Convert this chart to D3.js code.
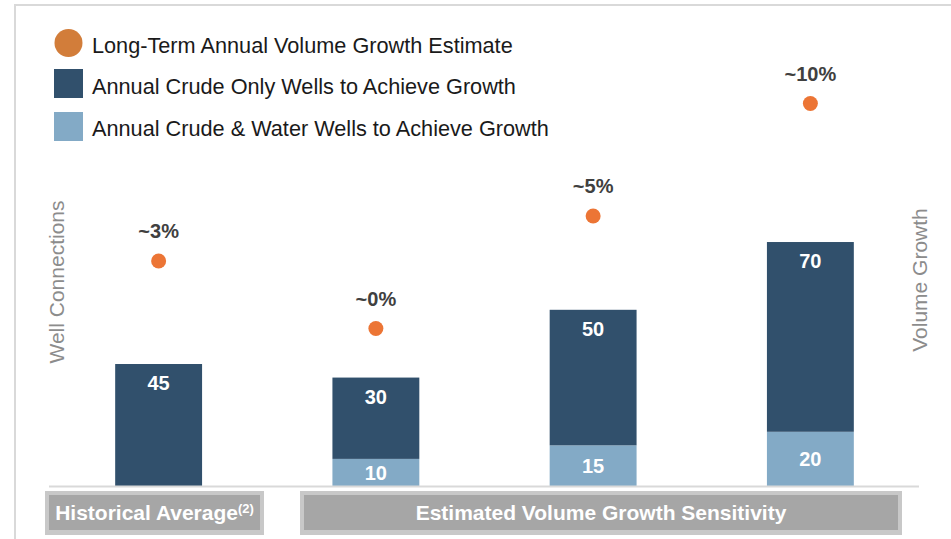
<!DOCTYPE html>
<html>
<head>
<meta charset="utf-8">
<script src="https://cdn.jsdelivr.net/npm/d3@7"></script>
<style>
  html, body { margin: 0; padding: 0; background: #fff; }
  svg { display: block; font-family: "Liberation Sans", Arial, sans-serif; }
</style>
</head>
<body>
<svg id="chart" width="951" height="539"></svg>
<script>
// Scenarios along the x axis
const scenarios = ["Historical Average", "~0% Growth", "~5% Growth", "~10% Growth"];
// Wells per year (left axis)
const crudeOnlyWells = [45, 30, 50, 70];
const crudeWaterWells = [0, 10, 15, 20];
// Long-term annual volume growth, % (right axis)
const volumeGrowth = [3, 0, 5, 10];
const growthLabels = ["~3%", "~0%", "~5%", "~10%"];
// Legend entries
const legendLabels = [
  "Long-Term Annual Volume Growth Estimate",
  "Annual Crude Only Wells to Achieve Growth",
  "Annual Crude & Water Wells to Achieve Growth"
];
// Group banners under the bars
const groupLabels = ["Historical Average", "Estimated Volume Growth Sensitivity"];
const groupSuperscripts = ["(2)", ""];

const colors = {
  crude: "#31506c",
  water: "#83aac6",
  dot: "#ec7535",
  legendDot: "#d27d3a",
  frame: "#d9d9d9",
  axisTitle: "#8c8c8c",
  growthText: "#404040",
  legendText: "#1a1a1a",
  bannerOuter: "#c8c8c8",
  bannerInner: "#a6a6a6"
};

const svg = d3.select("#chart");

const x = d3.scaleBand()
  .domain(scenarios)
  .range([50, 919])
  .paddingInner(0.6)
  .paddingOuter(0.3);

const y = d3.scaleLinear().domain([0, 166]).range([486, 36]);
const yGrowth = d3.scaleLinear().domain([-7, 13]).range([486, 36]);

// Outer frame (top and left edges)
svg.append("line").attr("x1", 14).attr("x2", 951).attr("y1", 5).attr("y2", 5)
  .attr("stroke", colors.frame).attr("stroke-width", 2);
svg.append("line").attr("x1", 15).attr("x2", 15).attr("y1", 4).attr("y2", 539)
  .attr("stroke", colors.frame).attr("stroke-width", 2);

// Stacked bars: crude & water at the bottom, crude only on top
const rows = scenarios.map((s, i) => ({ scenario: s, water: crudeWaterWells[i], crude: crudeOnlyWells[i] }));
const stack = d3.stack().keys(["water", "crude"])(rows);

const layers = svg.append("g").selectAll("g")
  .data(stack)
  .join("g")
  .attr("fill", d => colors[d.key]);

layers.selectAll("rect")
  .data(d => d.filter(p => p[1] > p[0]))
  .join("rect")
  .attr("x", d => x(d.data.scenario))
  .attr("width", x.bandwidth())
  .attr("y", d => y(d[1]))
  .attr("height", d => y(d[0]) - y(d[1]));

// Segment value labels
const labelG = svg.append("g")
  .attr("fill", "#fff")
  .attr("font-weight", "bold")
  .attr("font-size", 20)
  .attr("text-anchor", "middle");

stack.forEach(layer => {
  layer.forEach(p => {
    const v = p[1] - p[0];
    if (v <= 0) return;
    const cx = x(p.data.scenario) + x.bandwidth() / 2;
    const cy = layer.key === "water"
      ? (y(p[0]) + y(p[1])) / 2
      : y(p[1]) + 19;
    labelG.append("text")
      .attr("x", cx)
      .attr("y", cy)
      .attr("dy", "0.36em")
      .text(v);
  });
});

// Baseline
svg.append("line")
  .attr("x1", 49).attr("x2", 919)
  .attr("y1", y(0) + 0.5).attr("y2", y(0) + 0.5)
  .attr("stroke", colors.frame).attr("stroke-width", 2);

// Growth estimate markers
const dots = svg.append("g");
dots.selectAll("circle")
  .data(volumeGrowth)
  .join("circle")
  .attr("cx", (d, i) => x(scenarios[i]) + x.bandwidth() / 2)
  .attr("cy", d => yGrowth(d))
  .attr("r", 7.5)
  .attr("fill", colors.dot);

dots.selectAll("text")
  .data(volumeGrowth)
  .join("text")
  .attr("x", (d, i) => x(scenarios[i]) + x.bandwidth() / 2)
  .attr("y", d => yGrowth(d) - 30)
  .attr("dy", "0.36em")
  .attr("text-anchor", "middle")
  .attr("font-weight", "bold")
  .attr("font-size", 20)
  .attr("fill", colors.growthText)
  .text((d, i) => growthLabels[i]);

// Axis titles
svg.append("text")
  .attr("transform", `translate(64, ${(y(0) + y(166)) / 2 + 21}) rotate(-90)`)
  .attr("text-anchor", "middle")
  .attr("font-size", 21)
  .attr("fill", colors.axisTitle)
  .text("Well Connections");

svg.append("text")
  .attr("transform", `translate(927, ${(y(0) + y(166)) / 2 + 19}) rotate(-90)`)
  .attr("text-anchor", "middle")
  .attr("font-size", 21)
  .attr("fill", colors.axisTitle)
  .text("Volume Growth");

// Legend
const legend = svg.append("g");
legend.append("circle").attr("cx", 68.5).attr("cy", 43).attr("r", 14).attr("fill", colors.legendDot);
legend.append("rect").attr("x", 54).attr("y", 69).attr("width", 29).attr("height", 29).attr("fill", colors.crude);
legend.append("rect").attr("x", 54).attr("y", 112).attr("width", 29).attr("height", 29).attr("fill", colors.water);
legend.selectAll("text")
  .data(legendLabels)
  .join("text")
  .attr("x", 92)
  .attr("y", (d, i) => 52.5 + i * 41.5)
  .attr("font-size", 21.7)
  .attr("fill", colors.legendText)
  .text(d => d);

// Group banners
const banners = [
  { x0: 45, x1: 264 },
  { x0: 300, x1: 902 }
];
banners.forEach((b, i) => {
  svg.append("rect")
    .attr("x", b.x0).attr("y", 491)
    .attr("width", b.x1 - b.x0).attr("height", 44)
    .attr("fill", colors.bannerOuter);
  svg.append("rect")
    .attr("x", b.x0 + 4).attr("y", 495)
    .attr("width", b.x1 - b.x0 - 8).attr("height", 35)
    .attr("fill", colors.bannerInner);
  const t = svg.append("text")
    .attr("x", (b.x0 + b.x1) / 2)
    .attr("y", 520)
    .attr("text-anchor", "middle")
    .attr("font-weight", "bold")
    .attr("font-size", 21)
    .attr("fill", "#fff");
  t.append("tspan").text(groupLabels[i]);
  if (groupSuperscripts[i]) {
    t.append("tspan")
      .attr("font-size", 13)
      .attr("dy", -7)
      .text(groupSuperscripts[i]);
  }
});
</script>
</body>
</html>
